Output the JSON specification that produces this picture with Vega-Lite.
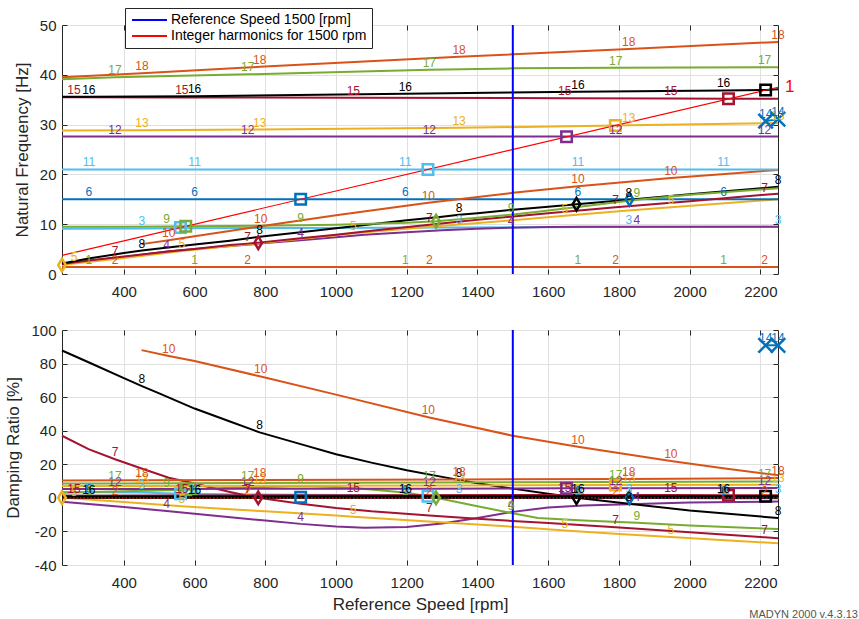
{
"$schema": "https://vega.github.io/schema/vega-lite/v6.json",
"padding": {"left": 4, "top": 7, "right": 5, "bottom": 5},
"spacing": 22,
"config": {
  "font": "Liberation Sans",
  "view": {"stroke": "#262626", "strokeWidth": 1},
  "axis": {"domain": false, "gridColor": "#e0e0e0", "gridWidth": 1, "tickColor": "#262626", "tickSize": -5, "labelColor": "#262626", "labelFontSize": 15, "titleColor": "#262626", "titleFontSize": 17, "titleFontWeight": "normal", "labelOverlap": false, "labelExpr": "'' + datum.value"},
  "axisY": {"labelPadding": 11, "titlePadding": 8},
  "axisX": {"labelPadding": 15, "titlePadding": 6}
},
"title": {"text": "MADYN 2000 v.4.3.13", "orient": "bottom", "anchor": "end", "fontSize": 11, "fontWeight": "normal", "color": "#555555", "offset": -4, "dx": 63},
"datasets": {
"modes": [
{"m":1,"r":225,"f":1.4,"d":0},{"m":1,"r":301,"f":1.4,"d":0,"t":1},{"m":1,"r":600,"f":1.4,"d":0,"t":1},{"m":1,"r":1196,"f":1.4,"d":0,"t":1},{"m":1,"r":1684,"f":1.4,"d":0,"t":1},{"m":1,"r":2096,"f":1.4,"d":0,"t":1},{"m":1,"r":2250,"f":1.4,"d":0},
{"m":2,"r":225,"f":1.4,"d":0},{"m":2,"r":375,"f":1.4,"d":0,"t":1},{"m":2,"r":750,"f":1.4,"d":0,"t":1},{"m":2,"r":1264,"f":1.4,"d":0,"t":1},{"m":2,"r":1791,"f":1.4,"d":0,"t":1},{"m":2,"r":2212,"f":1.4,"d":0,"t":1},{"m":2,"r":2250,"f":1.4,"d":0},
{"m":3,"r":225,"f":9.1,"d":3.5},{"m":3,"r":451,"f":9.15,"d":3.2,"t":1},{"m":3,"r":560,"f":9.2,"d":2.5},{"m":3,"r":900,"f":9.25,"d":1.8},{"m":3,"r":1348,"f":9.35,"d":1.2,"t":1},{"m":3,"r":1828,"f":9.45,"d":1.0,"t":1},{"m":3,"r":2250,"f":9.5,"d":1.0,"t":1},
{"m":4,"r":225,"f":2.0,"d":-2.3},{"m":4,"r":400,"f":3.4,"d":-5.5},{"m":4,"r":521,"f":4.5,"d":-7.8,"t":1},{"m":4,"r":600,"f":5.0,"d":-9.5},{"m":4,"r":800,"f":6.2,"d":-13.5},{"m":4,"r":900,"f":6.8,"d":-15.5,"t":1},{"m":4,"r":1000,"f":7.4,"d":-17},{"m":4,"r":1080,"f":7.9,"d":-17.8},{"m":4,"r":1200,"f":8.4,"d":-17.3},{"m":4,"r":1300,"f":8.8,"d":-15.3},{"m":4,"r":1400,"f":9.1,"d":-12},{"m":4,"r":1495,"f":9.3,"d":-8.5,"t":1},{"m":4,"r":1600,"f":9.45,"d":-5.7},{"m":4,"r":1700,"f":9.5,"d":-4.5},{"m":4,"r":1851,"f":9.5,"d":-3.6,"t":1},{"m":4,"r":2000,"f":9.5,"d":-2.8},{"m":4,"r":2250,"f":9.5,"d":-2.2},
{"m":5,"r":225,"f":1.8,"d":0},{"m":5,"r":259,"f":2.1,"d":-0.4,"t":1},{"m":5,"r":400,"f":3.2,"d":-2.5},{"m":5,"r":564,"f":4.6,"d":-5,"t":1},{"m":5,"r":700,"f":5.6,"d":-6.8},{"m":5,"r":800,"f":6.3,"d":-8},{"m":5,"r":1000,"f":7.8,"d":-10.5},{"m":5,"r":1049,"f":8.2,"d":-11.2,"t":1},{"m":5,"r":1250,"f":9.4,"d":-14},{"m":5,"r":1500,"f":10.8,"d":-17.2},{"m":5,"r":1647,"f":11.7,"d":-19.5,"t":1},{"m":5,"r":1800,"f":12.6,"d":-21.5},{"m":5,"r":1947,"f":13.4,"d":-23.3,"t":1},{"m":5,"r":2100,"f":14.2,"d":-25.2},{"m":5,"r":2250,"f":15.0,"d":-27},
{"m":6,"r":225,"f":15.0,"d":1.2},{"m":6,"r":301,"f":15.0,"d":1.1,"t":1},{"m":6,"r":600,"f":15.0,"d":0.8,"t":1},{"m":6,"r":900,"f":15.0,"d":0.4},{"m":6,"r":1196,"f":15.0,"d":0.3,"t":1},{"m":6,"r":1684,"f":15.0,"d":0.1,"t":1},{"m":6,"r":1830,"f":15.0,"d":0},{"m":6,"r":2096,"f":15.0,"d":-0.2,"t":1},{"m":6,"r":2250,"f":15.0,"d":-0.3},
{"m":7,"r":225,"f":2.0,"d":37},{"m":7,"r":300,"f":2.7,"d":29},{"m":7,"r":375,"f":3.3,"d":23,"t":1},{"m":7,"r":450,"f":3.9,"d":17.5},{"m":7,"r":527,"f":4.5,"d":12},{"m":7,"r":600,"f":5.0,"d":8.5},{"m":7,"r":700,"f":5.8,"d":3.5},{"m":7,"r":750,"f":6.1,"d":1.2,"t":1},{"m":7,"r":780,"f":6.3,"d":0},{"m":7,"r":900,"f":7.2,"d":-3.5},{"m":7,"r":1000,"f":7.9,"d":-6},{"m":7,"r":1100,"f":8.7,"d":-8},{"m":7,"r":1264,"f":9.9,"d":-10.5,"t":1},{"m":7,"r":1400,"f":10.9,"d":-12.5},{"m":7,"r":1600,"f":12.2,"d":-15},{"m":7,"r":1791,"f":13.4,"d":-17.5,"t":1},{"m":7,"r":2000,"f":14.6,"d":-20.5},{"m":7,"r":2212,"f":15.9,"d":-23.5,"t":1},{"m":7,"r":2250,"f":16.1,"d":-24},
{"m":8,"r":225,"f":2.1,"d":87.8},{"m":8,"r":300,"f":3.1,"d":80.8},{"m":8,"r":400,"f":4.2,"d":71.3},{"m":8,"r":451,"f":4.7,"d":66.6,"t":1},{"m":8,"r":500,"f":5.1,"d":62.2},{"m":8,"r":600,"f":5.9,"d":53.2},{"m":8,"r":700,"f":6.7,"d":45.5},{"m":8,"r":784,"f":7.5,"d":39,"t":1},{"m":8,"r":900,"f":8.4,"d":32},{"m":8,"r":1000,"f":9.2,"d":26},{"m":8,"r":1100,"f":10.0,"d":21},{"m":8,"r":1200,"f":10.8,"d":16.5},{"m":8,"r":1300,"f":11.5,"d":12.5},{"m":8,"r":1348,"f":11.9,"d":10.7,"t":1},{"m":8,"r":1400,"f":12.2,"d":8.7},{"m":8,"r":1500,"f":12.9,"d":5.5},{"m":8,"r":1600,"f":13.5,"d":2.5},{"m":8,"r":1680,"f":14.0,"d":0},{"m":8,"r":1828,"f":14.9,"d":-3.5,"t":1},{"m":8,"r":2000,"f":16.0,"d":-7.5},{"m":8,"r":2250,"f":17.5,"d":-12,"t":1},
{"m":9,"r":225,"f":9.5,"d":3},{"m":9,"r":400,"f":9.5,"d":4},{"m":9,"r":521,"f":9.55,"d":4.5,"t":1},{"m":9,"r":575,"f":9.6,"d":4.8},{"m":9,"r":700,"f":9.65,"d":6},{"m":9,"r":900,"f":9.8,"d":7,"t":1},{"m":9,"r":1000,"f":9.9,"d":6.5},{"m":9,"r":1100,"f":10.1,"d":5},{"m":9,"r":1200,"f":10.3,"d":3},{"m":9,"r":1283,"f":10.6,"d":0},{"m":9,"r":1400,"f":11.3,"d":-5},{"m":9,"r":1495,"f":11.9,"d":-9,"t":1},{"m":9,"r":1571,"f":12.5,"d":-12},{"m":9,"r":1700,"f":13.6,"d":-13.5},{"m":9,"r":1851,"f":14.9,"d":-14.8,"t":1},{"m":9,"r":2000,"f":15.9,"d":-16.5},{"m":9,"r":2250,"f":17.2,"d":-18.6},
{"m":10,"r":450,"f":6.0,"d":88},{"m":10,"r":527,"f":6.8,"d":84.5,"t":1},{"m":10,"r":600,"f":7.6,"d":81.5},{"m":10,"r":787,"f":9.6,"d":72.3,"t":1},{"m":10,"r":1000,"f":11.8,"d":61.5},{"m":10,"r":1261,"f":14.3,"d":48,"t":1},{"m":10,"r":1500,"f":16.3,"d":37},{"m":10,"r":1684,"f":17.6,"d":30.5,"t":1},{"m":10,"r":1947,"f":19.3,"d":22,"t":1},{"m":10,"r":2100,"f":20.1,"d":17.5},{"m":10,"r":2250,"f":20.9,"d":13.5},
{"m":11,"r":225,"f":21.0,"d":1.3},{"m":11,"r":301,"f":21.0,"d":1.3,"t":1},{"m":11,"r":600,"f":21.0,"d":1.2,"t":1},{"m":11,"r":1196,"f":21.0,"d":1.0,"t":1},{"m":11,"r":1260,"f":21.0,"d":0.9},{"m":11,"r":1684,"f":21.0,"d":0.8,"t":1},{"m":11,"r":2096,"f":21.0,"d":0.7,"t":1},{"m":11,"r":2250,"f":21.0,"d":0.7},
{"m":12,"r":225,"f":27.6,"d":5.3},{"m":12,"r":375,"f":27.6,"d":5.3,"t":1},{"m":12,"r":750,"f":27.6,"d":5.4,"t":1},{"m":12,"r":1264,"f":27.6,"d":5.5,"t":1},{"m":12,"r":1652,"f":27.6,"d":5.7},{"m":12,"r":1791,"f":27.6,"d":5.7,"t":1},{"m":12,"r":2212,"f":27.6,"d":5.8,"t":1},{"m":12,"r":2250,"f":27.6,"d":5.8},
{"m":13,"r":225,"f":28.8,"d":7.0},{"m":13,"r":451,"f":28.85,"d":7.1,"t":1},{"m":13,"r":784,"f":29.0,"d":7.2,"t":1},{"m":13,"r":1348,"f":29.35,"d":7.4,"t":1},{"m":13,"r":1790,"f":29.8,"d":7.6},{"m":13,"r":1828,"f":29.85,"d":7.6,"t":1},{"m":13,"r":2250,"f":30.3,"d":7.8,"t":1},
{"m":14,"r":2215,"f":30.7,"d":90.9,"t":1},{"m":14,"r":2250,"f":31.1,"d":90.9,"t":1},
{"m":15,"r":225,"f":35.5,"d":1.3},{"m":15,"r":259,"f":35.5,"d":1.3,"t":1},{"m":15,"r":564,"f":35.45,"d":1.4,"t":1},{"m":15,"r":1049,"f":35.4,"d":1.6,"t":1},{"m":15,"r":1647,"f":35.3,"d":1.7,"t":1},{"m":15,"r":1947,"f":35.25,"d":1.7,"t":1},{"m":15,"r":2110,"f":35.2,"d":1.6},{"m":15,"r":2250,"f":35.2,"d":1.5},
{"m":16,"r":225,"f":35.6,"d":0.8},{"m":16,"r":301,"f":35.6,"d":0.8,"t":1},{"m":16,"r":600,"f":35.7,"d":0.8,"t":1},{"m":16,"r":1196,"f":36.2,"d":0.9,"t":1},{"m":16,"r":1684,"f":36.6,"d":0.9,"t":1},{"m":16,"r":2096,"f":36.85,"d":0.9,"t":1},{"m":16,"r":2215,"f":36.95,"d":0.9},{"m":16,"r":2250,"f":37.1,"d":0.9},
{"m":17,"r":225,"f":39.1,"d":8.5},{"m":17,"r":375,"f":39.5,"d":8.6,"t":1},{"m":17,"r":750,"f":40.1,"d":8.8,"t":1},{"m":17,"r":1264,"f":41.0,"d":9.1,"t":1},{"m":17,"r":1500,"f":41.3,"d":9.3},{"m":17,"r":1791,"f":41.4,"d":9.5,"t":1},{"m":17,"r":2212,"f":41.5,"d":9.8,"t":1},{"m":17,"r":2250,"f":41.5,"d":9.8},
{"m":18,"r":225,"f":39.5,"d":10.3},{"m":18,"r":451,"f":40.3,"d":10.5,"t":1},{"m":18,"r":784,"f":41.6,"d":10.7,"t":1},{"m":18,"r":1348,"f":43.6,"d":11.0,"t":1},{"m":18,"r":1828,"f":45.2,"d":11.3,"t":1},{"m":18,"r":2250,"f":46.6,"d":11.8,"t":1}
],
"pts": [
{"m":5,"r":225,"f":1.8,"d":0,"k":"threshold"},
{"m":3,"r":560,"f":9.33,"d":2.5,"k":"crossing"},
{"m":9,"r":575,"f":9.6,"d":4.8,"k":"crossing"},
{"m":7,"r":780,"f":6.3,"d":0,"k":"threshold"},
{"m":6,"r":900,"f":15.0,"d":0.4,"k":"crossing"},
{"m":11,"r":1260,"f":21.0,"d":0.9,"k":"crossing"},
{"m":9,"r":1283,"f":10.6,"d":0,"k":"threshold"},
{"m":12,"r":1652,"f":27.55,"d":5.7,"k":"crossing"},
{"m":8,"r":1680,"f":14.0,"d":0,"k":"threshold"},
{"m":13,"r":1790,"f":29.8,"d":7.6,"k":"crossing"},
{"m":6,"r":1830,"f":15.0,"d":0,"k":"threshold"},
{"m":15,"r":2110,"f":35.2,"d":1.6,"k":"crossing"},
{"m":16,"r":2215,"f":36.95,"d":0.9,"k":"crossing"},
{"m":14,"r":2215,"f":30.7,"d":90.9,"k":"point"},
{"m":14,"r":2250,"f":31.1,"d":90.9,"k":"point"}
],
"order": [{"r":225,"f":3.75,"n":"1"},{"r":2250,"f":37.5,"n":"1"}],
"ref": [{"r":1500}],
"zero": [{"d":0}]
},
"vconcat": [
{
 "width": 716, "height": 249,
 "resolve": {"axis": {"x": "independent", "y": "independent"}},
 "layer": [
  {"data": {"name": "modes"}, "mark": {"type": "line", "strokeWidth": 2},
   "encoding": {
    "x": {"field": "r", "type": "quantitative", "scale": {"domain": [225, 2250], "nice": false, "zero": false}, "axis": {"values": [400,600,800,1000,1200,1400,1600,1800,2000,2200], "title": null}},
    "y": {"field": "f", "type": "quantitative", "scale": {"domain": [0, 50], "nice": false}, "axis": {"values": [0,10,20,30,40,50], "title": "Natural Frequency [Hz]", "labelOverlap": false}},
    "stroke": {"field": "m", "type": "nominal", "scale": {"domain": [1,2,3,4,5,6,7,8,9,10,11,12,13,14,15,16,17,18], "range": ["#77AC30","#D95319","#4DBEEE","#7E2F8E","#EDB120","#0072BD","#A2142F","#000000","#77AC30","#D95319","#4DBEEE","#7E2F8E","#EDB120","#0072BD","#A2142F","#000000","#77AC30","#D95319"]}, "legend": null}
   }},
  {"data": {"name": "order"}, "mark": {"type": "line", "strokeWidth": 1.2},
   "encoding": {
    "x": {"field": "r", "type": "quantitative", "axis": null},
    "y": {"field": "f", "type": "quantitative", "axis": null},
    "color": {"datum": "Integer harmonics for 1500 rpm", "scale": {"domain": ["Reference Speed 1500 [rpm]", "Integer harmonics for 1500 rpm"], "range": ["#0000FF", "#FF0000"]},
      "legend": {"orient": "none", "legendX": 63, "legendY": -17, "direction": "vertical", "title": null, "symbolType": "M-1,0L6,0", "symbolStrokeWidth": 2, "symbolSize": 100, "labelFontSize": 14, "labelColor": "#000000", "strokeColor": "#262626", "fillColor": "#ffffff", "padding": 5, "rowPadding": 2, "labelOffset": 27, "labelLimit": 400}}
   }},
  {"data": {"name": "ref"}, "mark": {"type": "rule", "strokeWidth": 2},
   "encoding": {"x": {"field": "r", "type": "quantitative", "axis": null}, "color": {"datum": "Reference Speed 1500 [rpm]"}}},
  {"data": {"name": "pts"}, "mark": {"type": "point", "filled": false, "strokeWidth": 2.5, "opacity": 1},
   "encoding": {
    "x": {"field": "r", "type": "quantitative", "axis": {"orient": "top", "values": [400,600,800,1000,1200,1400,1600,1800,2000,2200], "labels": false, "grid": false, "title": null}},
    "y": {"field": "f", "type": "quantitative", "axis": {"orient": "right", "values": [0,10,20,30,40,50], "labels": false, "grid": false, "title": null}},
    "stroke": {"field": "m", "type": "nominal", "legend": null},
    "shape": {"field": "k", "type": "nominal", "scale": {"domain": ["crossing","threshold","point"], "range": ["square", "M0,-1L0.6,0L0,1L-0.6,0Z", "M-1,-1L1,1M1,-1L-1,1"]}, "legend": null},
    "size": {"field": "k", "type": "nominal", "scale": {"domain": ["crossing","threshold","point"], "range": [110, 210, 60]}, "legend": null}
   }},
  {"data": {"name": "modes"}, "transform": [{"filter": "datum.t == 1"}], "mark": {"type": "text", "baseline": "bottom", "fontSize": 12},
   "encoding": {
    "x": {"field": "r", "type": "quantitative", "axis": null},
    "y": {"field": "f", "type": "quantitative", "axis": null},
    "text": {"field": "m", "type": "nominal"},
    "fill": {"field": "m", "type": "nominal", "scale": {"domain": [1,2,3,4,5,6,7,8,9,10,11,12,13,14,15,16,17,18], "range": ["#77AC30","#D95319","#4DBEEE","#7E2F8E","#EDB120","#0072BD","#A2142F","#000000","#77AC30","#D95319","#4DBEEE","#7E2F8E","#EDB120","#0072BD","#A2142F","#000000","#77AC30","#D95319"]}, "legend": null}
   }},
  {"data": {"name": "order"}, "transform": [{"filter": "datum.r == 2250"}], "mark": {"type": "text", "align": "left", "baseline": "middle", "dx": 7, "fontSize": 17, "color": "#FF0000"},
   "encoding": {"x": {"field": "r", "type": "quantitative", "axis": null}, "y": {"field": "f", "type": "quantitative", "axis": null}, "text": {"field": "n"}}}
 ]
},
{
 "width": 716, "height": 235,
 "resolve": {"axis": {"x": "independent", "y": "independent"}},
 "layer": [
  {"data": {"name": "modes"}, "mark": {"type": "line", "strokeWidth": 2},
   "encoding": {
    "x": {"field": "r", "type": "quantitative", "scale": {"domain": [225, 2250], "nice": false, "zero": false}, "axis": {"values": [400,600,800,1000,1200,1400,1600,1800,2000,2200], "title": "Reference Speed [rpm]"}},
    "y": {"field": "d", "type": "quantitative", "scale": {"domain": [-40, 100], "nice": false}, "axis": {"values": [-40,-20,0,20,40,60,80,100], "title": "Damping Ratio [%]", "labelOverlap": false}},
    "stroke": {"field": "m", "type": "nominal", "scale": {"domain": [1,2,3,4,5,6,7,8,9,10,11,12,13,14,15,16,17,18], "range": ["#77AC30","#D95319","#4DBEEE","#7E2F8E","#EDB120","#0072BD","#A2142F","#000000","#77AC30","#D95319","#4DBEEE","#7E2F8E","#EDB120","#0072BD","#A2142F","#000000","#77AC30","#D95319"]}, "legend": null}
   }},
  {"data": {"name": "zero"}, "mark": {"type": "rule", "strokeWidth": 2, "color": "#000000"},
   "encoding": {"y": {"field": "d", "type": "quantitative", "axis": null}}},
  {"data": {"name": "zero"}, "mark": {"type": "rule", "strokeWidth": 1.2, "color": "#FF0000", "strokeDash": [1.5, 2]},
   "encoding": {"y": {"field": "d", "type": "quantitative", "axis": null}}},
  {"data": {"name": "ref"}, "mark": {"type": "rule", "strokeWidth": 2, "color": "#0000FF"},
   "encoding": {"x": {"field": "r", "type": "quantitative", "axis": null}}},
  {"data": {"name": "pts"}, "mark": {"type": "point", "filled": false, "strokeWidth": 2.5, "opacity": 1},
   "encoding": {
    "x": {"field": "r", "type": "quantitative", "axis": {"orient": "top", "values": [400,600,800,1000,1200,1400,1600,1800,2000,2200], "labels": false, "grid": false, "title": null}},
    "y": {"field": "d", "type": "quantitative", "axis": {"orient": "right", "values": [-40,-20,0,20,40,60,80,100], "labels": false, "grid": false, "title": null}},
    "stroke": {"field": "m", "type": "nominal", "legend": null},
    "shape": {"field": "k", "type": "nominal", "scale": {"domain": ["crossing","threshold","point"], "range": ["square", "M0,-1L0.6,0L0,1L-0.6,0Z", "M-1,-1L1,1M1,-1L-1,1"]}, "legend": null},
    "size": {"field": "k", "type": "nominal", "scale": {"domain": ["crossing","threshold","point"], "range": [110, 210, 60]}, "legend": null}
   }},
  {"data": {"name": "modes"}, "transform": [{"filter": "datum.t == 1"}], "mark": {"type": "text", "baseline": "bottom", "fontSize": 12},
   "encoding": {
    "x": {"field": "r", "type": "quantitative", "axis": null},
    "y": {"field": "d", "type": "quantitative", "axis": null},
    "text": {"field": "m", "type": "nominal"},
    "fill": {"field": "m", "type": "nominal", "scale": {"domain": [1,2,3,4,5,6,7,8,9,10,11,12,13,14,15,16,17,18], "range": ["#77AC30","#D95319","#4DBEEE","#7E2F8E","#EDB120","#0072BD","#A2142F","#000000","#77AC30","#D95319","#4DBEEE","#7E2F8E","#EDB120","#0072BD","#A2142F","#000000","#77AC30","#D95319"]}, "legend": null}
   }}
 ]
}
]
}
